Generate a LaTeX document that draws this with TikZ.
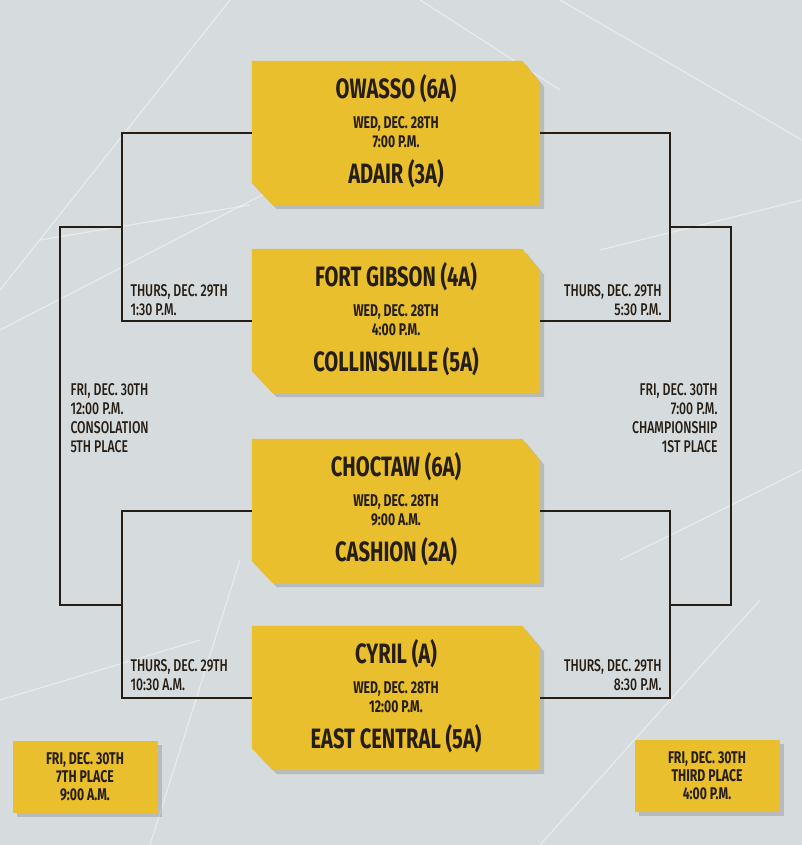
\documentclass[tikz,border=0pt]{standalone}
\usepackage{fontspec}
\setmainfont{Fira Sans}[FakeStretch=0.72]
\newfontfamily\lblfont{Fira Sans Medium}[FakeStretch=0.72]
\usetikzlibrary{shadows}

\definecolor{gameyellow}{RGB}{233,191,45}
\definecolor{bggray}{RGB}{214,219,222}
\definecolor{inkbrown}{RGB}{38,30,20}

\tikzset{
  gameslot/.style={rectangle, minimum width=288pt, minimum height=144pt, inner sep=0pt},
  gamefill/.style={fill=gameyellow, drop shadow={shadow xshift=4pt, shadow yshift=-4pt, opacity=0.35}},
  placebox/.style={rectangle, fill=gameyellow, minimum width=145pt, minimum height=72pt,
    inner sep=0pt, align=center, text=inkbrown, font=\bfseries\fontsize{17}{18}\selectfont,
    drop shadow={shadow xshift=4pt, shadow yshift=-4pt, opacity=0.35}},
  team/.style={font=\bfseries\fontsize{28}{30}\selectfont, text=inkbrown},
  gametime/.style={font=\bfseries\fontsize{17}{19}\selectfont, align=center, text=inkbrown},
  roundlbl/.style={font=\lblfont\fontsize{17}{19}\selectfont, text=inkbrown},
  bracket/.style={line width=2.2pt, draw=inkbrown}
}

\begin{document}
\begin{tikzpicture}[x=1pt, y=-1pt]
    % background
    \fill[bggray] (0,0) rectangle (802,845);
    \useasboundingbox (0,0) rectangle (802,845);
    \begin{scope}[white, line width=1.2pt, opacity=0.45]
        \draw (0,290) -- (230,0);
        \draw (40,240) -- (250,205);
        \draw (0,330) -- (330,160);
        \draw (560,0) -- (802,140);
        \draw (600,250) -- (802,200);
        \draw (620,560) -- (802,470);
        \draw (150,845) -- (240,560);
        \draw (540,845) -- (760,600);
        \draw (0,700) -- (200,640);
        \draw (420,0) -- (560,90);
    \end{scope}

    % first round games
    \foreach \n/\yc/\ta/\dt/\tb in {
        1/133/{OWASSO (6A)}/{WED, DEC. 28TH\\7:00 P.M.}/{ADAIR (3A)},
        2/321/{FORT GIBSON (4A)}/{WED, DEC. 28TH\\4:00 P.M.}/{COLLINSVILLE (5A)},
        3/511/{CHOCTAW (6A)}/{WED, DEC. 28TH\\9:00 A.M.}/{CASHION (2A)},
        4/698/{CYRIL (A)}/{WED, DEC. 28TH\\12:00 P.M.}/{EAST CENTRAL (5A)}} {
        \node (m\n) [gameslot] at (396,\yc) {};
        \fill[gamefill] (m\n.north west) -- ([xshift=-18pt]m\n.north east)
            -- ([yshift=-22pt]m\n.north east) -- (m\n.south east)
            -- ([xshift=21pt]m\n.south west) -- ([yshift=22pt]m\n.south west) -- cycle;
        \node (m\n top) [team] at ([yshift=44pt]m\n.center) {\ta};
        \node (m\n time) [gametime] at ([yshift=1pt]m\n.center) {\dt};
        \node (m\n bot) [team] at ([yshift=-41pt]m\n.center) {\tb};
    }

    % brackets
    \draw[bracket] (m1.west) -- ++(-130,0) |- (m2.west);
    \draw[bracket] (m3.west) -- ++(-130,0) |- (m4.west);
    \draw[bracket] (m1.east) -- ++(130,0) |- (m2.east);
    \draw[bracket] (m3.east) -- ++(130,0) |- (m4.east);
    \coordinate (semiL1) at (122,227);
    \coordinate (semiL2) at (122,605);
    \coordinate (semiR1) at (670,227);
    \coordinate (semiR2) at (670,605);
    \draw[bracket] (semiL1) -- ++(-62,0) |- (semiL2);
    \draw[bracket] (semiR1) -- ++(61,0) |- (semiR2);

    % round labels
    \node (semiLtop) [roundlbl, anchor=west, align=left] at (127,300) {THURS, DEC. 29TH\\1:30 P.M.};
    \node (semiLbot) [roundlbl, anchor=west, align=left] at (127,675) {THURS, DEC. 29TH\\10:30 A.M.};
    \node (semiRtop) [roundlbl, anchor=east, align=right] at (665,300) {THURS, DEC. 29TH\\5:30 P.M.};
    \node (semiRbot) [roundlbl, anchor=east, align=right] at (665,675) {THURS, DEC. 29TH\\8:30 P.M.};
    \node (consol) [roundlbl, anchor=west, align=left] at (67,418) {FRI, DEC. 30TH\\12:00 P.M.\\CONSOLATION\\5TH PLACE};
    \node (champ) [roundlbl, anchor=east, align=right] at (721,418) {FRI, DEC. 30TH\\7:00 P.M.\\CHAMPIONSHIP\\1ST PLACE};

    % placing games
    \node (seventh) [placebox] at (85,777) {FRI, DEC. 30TH\\7TH PLACE\\9:00 A.M.};
    \node (third) [placebox] at (707,776) {FRI, DEC. 30TH\\THIRD PLACE\\4:00 P.M.};
\end{tikzpicture}
\end{document}
